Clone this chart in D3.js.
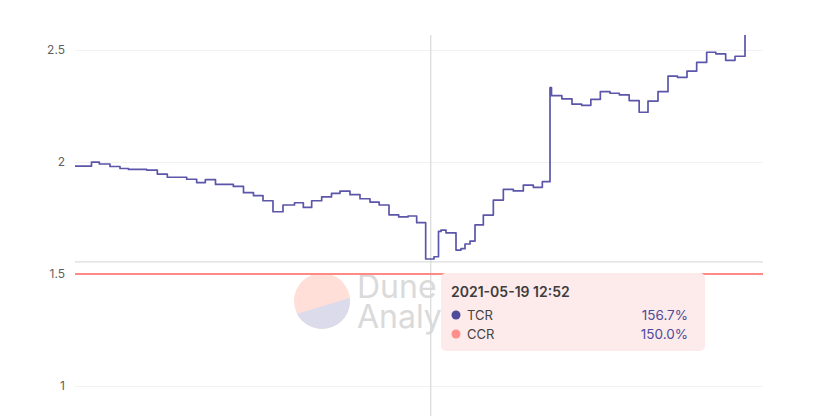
<!DOCTYPE html>
<html>
<head>
<meta charset="utf-8">
<script src="https://cdn.jsdelivr.net/npm/d3@7"></script>
<style>
  html, body { margin: 0; padding: 0; background: #ffffff; }
  svg { display: block; font-family: Inter, "Open Sans", sans-serif; }
</style>
</head>
<body>
<svg id="chart" width="832" height="416"></svg>
<script>
// ---- data ----
const times = [
  "2021-05-12 03:00","2021-05-12 11:15","2021-05-12 15:10","2021-05-12 20:30",
  "2021-05-13 01:30","2021-05-13 05:45","2021-05-13 14:50","2021-05-13 20:10",
  "2021-05-14 01:10","2021-05-14 10:50","2021-05-14 15:50","2021-05-14 20:10",
  "2021-05-15 01:15","2021-05-15 10:10","2021-05-15 15:15","2021-05-15 20:15",
  "2021-05-16 01:00","2021-05-16 06:00","2021-05-16 11:00","2021-05-16 16:45",
  "2021-05-16 21:10","2021-05-17 01:20","2021-05-17 06:20","2021-05-17 11:15",
  "2021-05-17 15:30","2021-05-17 20:30","2021-05-18 01:30","2021-05-18 06:30",
  "2021-05-18 11:05","2021-05-18 16:00","2021-05-18 20:50","2021-05-19 01:30",
  "2021-05-19 05:50","2021-05-19 10:20","2021-05-19 14:30","2021-05-19 16:45",
  "2021-05-19 18:00","2021-05-19 20:30","2021-05-20 01:30","2021-05-20 04:00",
  "2021-05-20 06:00","2021-05-20 08:30","2021-05-20 11:00","2021-05-20 15:10",
  "2021-05-20 20:10","2021-05-21 01:10","2021-05-21 06:10","2021-05-21 11:10",
  "2021-05-21 16:10","2021-05-21 20:40","2021-05-22 00:30","2021-05-22 01:15",
  "2021-05-22 06:25","2021-05-22 11:30","2021-05-22 16:20","2021-05-22 20:55",
  "2021-05-23 01:40","2021-05-23 06:30","2021-05-23 11:10","2021-05-23 16:05",
  "2021-05-23 21:05","2021-05-24 01:30","2021-05-24 06:30","2021-05-24 11:30",
  "2021-05-24 16:15","2021-05-24 21:00","2021-05-25 01:50","2021-05-25 06:50",
  "2021-05-25 11:25","2021-05-25 16:20","2021-05-25 21:00","2021-05-26 02:00"
];
const tcr = [
  1.982,1.999,1.991,1.980,
  1.971,1.967,1.964,1.946,
  1.932,1.923,1.908,1.921,
  1.900,1.891,1.863,1.850,
  1.827,1.778,1.808,1.818,
  1.797,1.827,1.844,1.860,
  1.870,1.854,1.836,1.821,
  1.808,1.764,1.755,1.759,
  1.729,1.567,1.577,1.690,
  1.696,1.684,1.607,1.613,
  1.634,1.647,1.719,1.763,
  1.830,1.878,1.871,1.897,
  1.887,1.912,2.332,2.296,
  2.282,2.258,2.253,2.280,
  2.314,2.307,2.300,2.274,
  2.222,2.272,2.314,2.383,
  2.378,2.406,2.445,2.490,
  2.483,2.454,2.472,2.720
];
const ccrTimes = ["2021-05-12 03:00", "2021-05-26 11:00"];
const ccr = [1.5, 1.5];
const xDomain = ["2021-05-12 03:00", "2021-05-26 11:00"];
const yTicks = [1, 1.5, 2, 2.5];
const seriesNames = ["TCR", "CCR"];
const hoverTime = "2021-05-19 12:52";
const hoverY = 1.554;
const hoverValues = ["156.7%", "150.0%"];
const colors = ["#5b56a9", "#ff8a85"];
const dotColors = ["#4e4a9c", "#ff8f8a"];

// ---- layout ----
const parse = d3.timeParse("%Y-%m-%d %H:%M");
const mLeft = 75, mRight = 763, mTop = 35, mBottom = 416;
const svg = d3.select("#chart");

const x = d3.scaleTime().domain(xDomain.map(parse)).range([mLeft, mRight]);
const y = d3.scaleLinear().domain([1, 2.5]).range([386, 50]);

// gridlines
svg.append("g")
  .attr("transform", `translate(${mLeft},0)`)
  .call(d3.axisLeft(y).tickValues(yTicks).tickSize(-(mRight - mLeft)).tickFormat(""))
  .call(g => g.select(".domain").remove())
  .call(g => g.selectAll("line").attr("stroke", "#f1f1f1").attr("stroke-width", 1));

// y labels
svg.append("g")
  .attr("transform", `translate(${mLeft},0)`)
  .call(d3.axisLeft(y).tickValues(yTicks).tickSize(0).tickPadding(10).tickFormat(d3.format("")))
  .call(g => g.select(".domain").remove())
  .call(g => g.selectAll("text")
    .attr("fill", "#5f5f5f")
    .style("font-size", "12px")
    .style("font-family", "Inter, 'Open Sans', sans-serif"));

// watermark
const wm = svg.append("g");
const cx = 322, cy = 301, r = 28;
wm.append("clipPath").attr("id", "wmclip")
  .append("circle").attr("cx", cx).attr("cy", cy).attr("r", r);
wm.append("circle").attr("cx", cx).attr("cy", cy).attr("r", r).attr("fill", "#ffdfd8");
wm.append("path")
  .attr("clip-path", "url(#wmclip)")
  .attr("d", `M${cx - 40},${318.5} L${cx + 40},${294} L${cx + 40},${cy + 40} L${cx - 40},${cy + 40} Z`)
  .attr("fill", "#dcdbeb");
wm.append("text").attr("x", 357).attr("y", 298).text("Dune")
  .attr("fill", "#dadada").style("font-size", "32px").style("font-family", "Inter, sans-serif");
wm.append("text").attr("x", 357).attr("y", 328).text("Analytics")
  .attr("fill", "#dadada").style("font-size", "32px").style("font-family", "Inter, sans-serif");

// clip for plot
svg.append("clipPath").attr("id", "plotclip")
  .append("rect").attr("x", mLeft).attr("y", mTop).attr("width", mRight - mLeft).attr("height", mBottom - mTop);

// crosshair
const hx = x(parse(hoverTime));
svg.append("line")
  .attr("x1", mLeft).attr("x2", mRight).attr("y1", y(hoverY)).attr("y2", y(hoverY))
  .attr("stroke", "#dcdcdc").attr("stroke-width", 1.2);
svg.append("line")
  .attr("x1", hx).attr("x2", hx).attr("y1", mTop).attr("y2", mBottom)
  .attr("stroke", "#d9d9d9").attr("stroke-width", 1.2);

// CCR line
const ccrData = ccrTimes.map((t, i) => ({ t: parse(t), v: ccr[i] }));
svg.append("path")
  .datum(ccrData)
  .attr("clip-path", "url(#plotclip)")
  .attr("fill", "none")
  .attr("stroke", colors[1])
  .attr("stroke-width", 1.8)
  .attr("d", d3.line().x(d => x(d.t)).y(d => y(d.v)));

// TCR line
const tcrData = times.map((t, i) => ({ t: parse(t), v: tcr[i] }));
svg.append("path")
  .datum(tcrData)
  .attr("clip-path", "url(#plotclip)")
  .attr("fill", "none")
  .attr("stroke", colors[0])
  .attr("stroke-width", 1.7)
  .attr("stroke-linejoin", "round")
  .attr("d", d3.line().curve(d3.curveStepAfter).x(d => x(d.t)).y(d => y(d.v)));

// tooltip
const tt = svg.append("g").attr("transform", "translate(441,273)");
tt.append("rect").attr("width", 264).attr("height", 78).attr("rx", 5)
  .attr("fill", "#fdeaea");
tt.append("text").attr("x", 10).attr("y", 24).text(hoverTime)
  .attr("fill", "#3d3d3d").style("font-size", "14px").style("font-weight", "600");
seriesNames.forEach((name, i) => {
  const yy = 47 + i * 19;
  tt.append("circle").attr("cx", 15).attr("cy", yy - 5).attr("r", 4.5).attr("fill", dotColors[i]);
  tt.append("text").attr("x", 26).attr("y", yy).text(name)
    .attr("fill", "#444").style("font-size", "13px");
  tt.append("text").attr("x", 247).attr("y", yy).attr("text-anchor", "end").text(hoverValues[i])
    .attr("fill", "#4e4a9c").style("font-size", "13.5px");
});
</script>
</body>
</html>
